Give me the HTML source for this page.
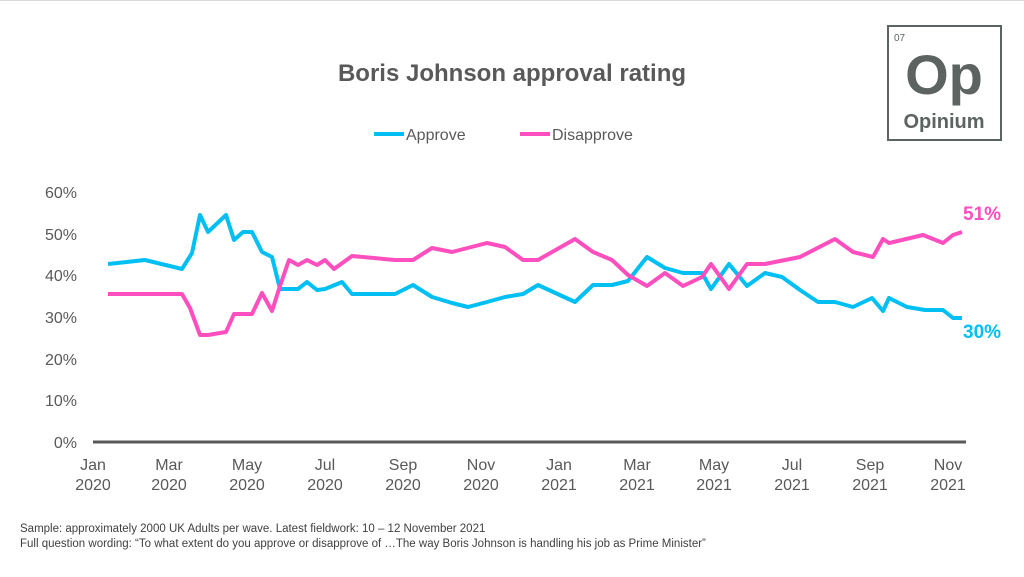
<!DOCTYPE html>
<html><head><style>
body{margin:0;width:1024px;height:577px;background:#fff;overflow:hidden;font-family:"Liberation Sans",Arial,sans-serif;position:relative}
.t{position:absolute;color:#595959}
</style></head><body>
<div style="position:absolute;left:0;top:0;width:1024px;height:1px;background:#d9d9d9"></div>
<div class="t" style="left:0;width:1024px;top:60px;text-align:center;font-size:24px;font-weight:bold;color:#595959">Boris Johnson approval rating</div>
<div style="position:absolute;left:887px;top:25px;width:115px;height:116px;border:2.5px solid #5d6360;box-sizing:border-box">
<div class="t" style="left:5px;top:6px;font-size:10px;color:#5d6360">07</div>
<div class="t" style="left:0;width:110px;top:16px;text-align:center;font-size:56px;font-weight:bold;line-height:64px;color:#5d6360">Op</div>
<div class="t" style="left:0;width:110px;top:84px;text-align:center;font-size:20px;font-weight:bold;color:#5d6360">Opinium</div>
</div>
<svg width="1024" height="577" style="position:absolute;left:0;top:0">
<line x1="374" y1="134" x2="404" y2="134" stroke="#00bff3" stroke-width="4"/>
<line x1="520" y1="134" x2="550" y2="134" stroke="#ff4fbf" stroke-width="4"/>
<text x="406" y="140" font-size="16" fill="#595959" font-family="Liberation Sans">Approve</text>
<text x="552" y="140" font-size="16" fill="#595959" font-family="Liberation Sans">Disapprove</text>
<g font-size="16" fill="#595959" font-family="Liberation Sans" text-anchor="end">
<text x="77" y="198">60%</text><text x="77" y="240">50%</text><text x="77" y="281">40%</text><text x="77" y="323">30%</text><text x="77" y="365">20%</text><text x="77" y="406">10%</text><text x="77" y="448">0%</text></g>
<line x1="93" y1="442" x2="966" y2="442" stroke="#595959" stroke-width="3"/>
<g font-size="16" fill="#595959" font-family="Liberation Sans" text-anchor="middle">
<text x="93" y="470">Jan</text><text x="93" y="490">2020</text>
<text x="169" y="470">Mar</text><text x="169" y="490">2020</text>
<text x="247" y="470">May</text><text x="247" y="490">2020</text>
<text x="325" y="470">Jul</text><text x="325" y="490">2020</text>
<text x="403" y="470">Sep</text><text x="403" y="490">2020</text>
<text x="481" y="470">Nov</text><text x="481" y="490">2020</text>
<text x="559" y="470">Jan</text><text x="559" y="490">2021</text>
<text x="637" y="470">Mar</text><text x="637" y="490">2021</text>
<text x="714" y="470">May</text><text x="714" y="490">2021</text>
<text x="792" y="470">Jul</text><text x="792" y="490">2021</text>
<text x="870" y="470">Sep</text><text x="870" y="490">2021</text>
<text x="948" y="470">Nov</text><text x="948" y="490">2021</text></g>
<polyline fill="none" stroke="#00bff3" stroke-width="4" stroke-linejoin="round" points="108,264 145,260 182,269 192,253 200,215 208,232 226,215 234,240 243,232 252,232 262,252 272,257 280,289 298,289 307,282 317,290 325,289 342,282 352,294 395,294 413,285 432,297 452,303 468,307 487,302 505,297 523,294 538,285 575,302 593,285 612,285 628,281 647,257 665,268 683,273 702,273 711,289 729,264 747,286 765,273 782,277 800,290 818,302 835,302 853,307 872,298 883,311 889,298 907,307 925,310 943,310 953,318 962,318"/>
<polyline fill="none" stroke="#ff4fbf" stroke-width="4" stroke-linejoin="round" points="108,294 182,294 190,308 200,335 208,335 226,332 234,314 252,314 262,293 272,311 280,286 289,260 298,265 307,260 317,265 325,260 334,269 352,256 395,260 413,260 432,248 452,252 487,243 505,247 523,260 538,260 575,239 593,252 612,260 628,275 647,286 665,273 683,286 702,277 711,264 729,289 747,264 765,264 800,257 835,239 853,252 873,257 883,239 889,243 923,235 943,243 953,235 962,232"/>
<text x="963" y="220" font-size="19" font-weight="bold" fill="#ff4fbf" font-family="Liberation Sans">51%</text>
<text x="963" y="338" font-size="19" font-weight="bold" fill="#00bff3" font-family="Liberation Sans">30%</text>
</svg>
<div class="t" style="left:20px;top:523px;font-size:11.5px;color:#404040">Sample: approximately 2000 UK Adults per wave. Latest fieldwork: 10 – 12 November 2021</div>
<div class="t" style="left:20px;top:538px;font-size:11.5px;color:#404040">Full question wording: “To what extent do you approve or disapprove of …The way Boris Johnson is handling his job as Prime Minister”</div>
</body></html>
